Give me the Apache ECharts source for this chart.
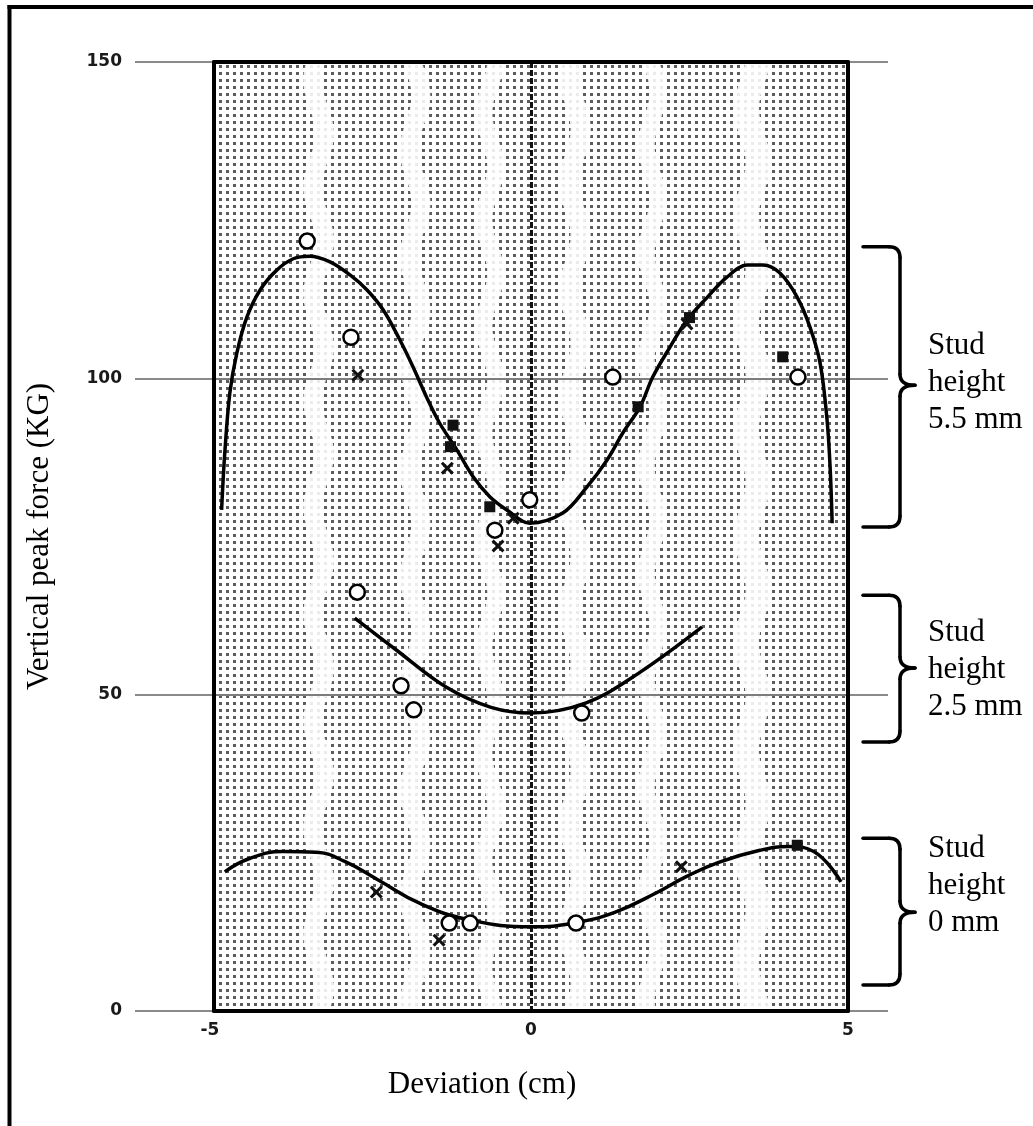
<!DOCTYPE html>
<html>
<head>
<meta charset="utf-8">
<script src="https://cdn.jsdelivr.net/npm/echarts@6/dist/echarts.min.js"></script>
<style>
  html, body { margin: 0; padding: 0; background: #fff; }
  #chart { width: 1033px; height: 1126px; }
</style>
</head>
<body>
<div id="chart"></div>
<script>
// Fitted response curves, one per stud height: [deviation cm, force KG]
const curve55 = [
  [-4.88, 79.2], [-4.83, 88.2], [-4.75, 97.7], [-4.64, 104.0], [-4.48, 109.7],
  [-4.27, 114.0], [-4.01, 117.1], [-3.75, 118.9], [-3.49, 119.3], [-3.17, 118.4],
  [-2.85, 116.3], [-2.59, 114.0], [-2.33, 110.8], [-2.07, 106.1], [-1.86, 101.8],
  [-1.65, 97.1], [-1.44, 92.9], [-1.17, 88.7], [-0.91, 84.4], [-0.65, 81.3],
  [-0.38, 79.2], [-0.02, 77.1], [0.50, 78.7], [0.88, 82.8], [1.20, 87.1],
  [1.45, 91.4], [1.72, 95.5], [1.92, 100.2], [2.19, 104.9], [2.46, 109.2],
  [2.78, 112.8], [3.09, 116.0], [3.41, 117.9], [3.66, 117.9], [3.93, 116.6],
  [4.20, 112.8], [4.40, 108.1], [4.56, 102.4], [4.67, 93.4], [4.72, 85.5], [4.75, 77.1]
];
const curve25 = [
  [-2.78, 62.1], [-2.13, 57.1], [-1.34, 51.2], [-0.63, 48.0], [0.0, 47.1],
  [0.87, 48.7], [1.70, 53.4], [2.70, 60.7]
];
const curve0 = [
  [-4.83, 22.0], [-4.44, 24.1], [-3.91, 25.2], [-3.39, 25.1], [-2.93, 23.6],
  [-2.41, 20.7], [-1.75, 17.0], [-0.97, 14.4], [0.02, 13.3], [0.67, 13.9],
  [1.32, 15.6], [1.98, 18.7], [2.44, 21.2], [2.96, 23.5], [3.61, 25.4],
  [4.07, 26.0], [4.46, 25.2], [4.89, 20.4]
];

// Measured points
const circles55 = [[-3.53, 121.7], [-2.84, 106.5], [-0.57, 76.0], [-0.02, 80.8], [1.29, 100.2], [4.21, 100.2]];
const crosses55 = [[-2.73, 100.5], [-1.32, 85.8], [-0.28, 77.9], [-0.52, 73.5], [2.46, 108.6]];
const squares55 = [[-1.23, 92.6], [-1.27, 89.2], [-0.65, 79.7], [1.69, 95.5], [2.50, 109.6], [3.97, 103.4]];
const circles25 = [[-2.74, 66.2], [-2.05, 51.4], [-1.85, 47.6], [0.80, 47.1]];
const circles0 = [[-1.29, 13.9], [-0.96, 13.9], [0.71, 13.9]];
const crosses0 = [[-2.44, 18.8], [-1.45, 11.2], [2.37, 22.8]];
const squares0 = [[4.20, 26.2]];

// Axis ranges and ticks
const xRange = [-5, 5];
const xStep = 5;
const yRange = [0, 150];
const yStep = 50;

// Stud-height groups annotated on the right
const studLabels = ['Stud\nheight\n5.5 mm', 'Stud\nheight\n2.5 mm', 'Stud\nheight\n0 mm'];
const braceSpans = [[120.8, 76.5], [65.7, 42.5], [27.3, 4.1]];
const braceTips = [98.9, 54.2, 15.6];
const labelCenters = [99.3, 54.0, 19.8];

// Pale wavy streaks running down the halftone paper (deviation units)
const streakCenters = [-3.35, -1.83, -0.65, 0.69, 1.91, 3.49];
const streakWidths = [0.3, 0.3, 0.27, 0.32, 0.27, 0.4];

function dotTile() {
  const c = document.createElement('canvas');
  c.width = 7; c.height = 7;
  const g = c.getContext('2d');
  g.fillStyle = '#ffffff';
  g.fillRect(0, 0, 7, 7);
  g.fillStyle = '#5c5c5c';
  g.fillRect(2, 2, 3, 3);
  return c;
}

const tickFont = { fontFamily: 'DejaVu Sans', fontWeight: 'bold', fontSize: 17, color: '#1a1a1a' };
const serif = '"Liberation Serif", "Times New Roman", serif';
const crossPath = 'path://M2,0 L6,4 L10,0 L12,2 L8,6 L12,10 L10,12 L6,8 L2,12 L0,10 L4,6 L0,2 Z';
const frameLine = { show: true, onZero: false, lineStyle: { color: '#000', width: 4 } };

const chart = echarts.init(document.getElementById('chart'));

chart.setOption({
  animation: false,
  backgroundColor: '#fff',
  grid: [
    { left: 214, top: 62, width: 634, height: 949, show: true, z: 1,
      backgroundColor: { image: dotTile(), repeat: 'repeat' }, borderWidth: 0 },
    { left: 135, top: 62, width: 753, height: 949, show: false }
  ],
  xAxis: [
    { gridIndex: 0, type: 'value', min: xRange[0], max: xRange[1], interval: xStep, z: 3,
      axisLine: frameLine, axisTick: { show: false },
      axisLabel: Object.assign({
        margin: 11,
        formatter: v => (v < 0 ? '{neg|' + v + '}' : String(v)),
        rich: { neg: Object.assign({ padding: [0, 8, 0, 0] }, tickFont) }
      }, tickFont),
      splitLine: { show: true, showMinLine: false, showMaxLine: false,
        lineStyle: { color: '#111', width: 3, type: [6, 2] } },
      name: 'Deviation (cm)', nameLocation: 'middle', nameGap: 58,
      nameTextStyle: { fontFamily: serif, fontSize: 31, color: '#000', padding: [0, 98, 0, 0] } },
    { gridIndex: 0, type: 'value', position: 'top', min: xRange[0], max: xRange[1], z: 3,
      axisLine: frameLine, axisTick: { show: false }, axisLabel: { show: false }, splitLine: { show: false } },
    { gridIndex: 1, type: 'value', min: xRange[0], max: xRange[1], show: false }
  ],
  yAxis: [
    { gridIndex: 0, type: 'value', min: yRange[0], max: yRange[1], interval: yStep, z: 3,
      axisLine: frameLine, axisTick: { show: false }, axisLabel: { show: false },
      splitLine: { show: true, showMinLine: false, showMaxLine: false,
        lineStyle: { color: '#7d7d7d', width: 2 } } },
    { gridIndex: 0, type: 'value', position: 'right', min: yRange[0], max: yRange[1], z: 3,
      axisLine: frameLine, axisTick: { show: false }, axisLabel: { show: false }, splitLine: { show: false } },
    { gridIndex: 1, type: 'value', min: yRange[0], max: yRange[1], interval: yStep,
      axisLine: { show: false }, axisTick: { show: false },
      axisLabel: Object.assign({ margin: 13 }, tickFont),
      splitLine: { show: true, lineStyle: { color: '#8a8a8a', width: 2 } },
      name: 'Vertical peak force (KG)', nameLocation: 'middle', nameGap: 80, nameRotate: 90,
      nameTextStyle: { fontFamily: serif, fontSize: 31, color: '#000' } }
  ],
  series: [
    { type: 'line', data: curve55, smooth: 0.35, showSymbol: false, z: 4,
      lineStyle: { color: '#000', width: 3.5 } },
    { type: 'line', data: curve25, smooth: 0.35, showSymbol: false, z: 4,
      lineStyle: { color: '#000', width: 3.5 } },
    { type: 'line', data: curve0, smooth: 0.45, showSymbol: false, z: 4,
      lineStyle: { color: '#000', width: 3.5 } },
    { type: 'scatter', data: circles55.concat(circles25, circles0), symbol: 'circle', symbolSize: 15, z: 5,
      itemStyle: { color: '#fff', borderColor: '#000', borderWidth: 2.5, opacity: 1 } },
    { type: 'scatter', data: crosses55.concat(crosses0), symbol: crossPath, symbolSize: 13, z: 5,
      itemStyle: { color: '#111', opacity: 1 } },
    { type: 'scatter', data: squares55.concat(squares0), symbol: 'rect', symbolSize: 11, z: 5,
      itemStyle: { color: '#111', opacity: 1 } }
  ]
});

const xPx = v => chart.convertToPixel({ xAxisIndex: 0 }, v);
const yPx = v => chart.convertToPixel({ yAxisIndex: 0 }, v);
const plotRight = xPx(xRange[1]);
const plotTop = yPx(yRange[1]);
const plotBottom = yPx(yRange[0]);
const ink = { stroke: '#000', lineWidth: 3.5, fill: 'none', lineCap: 'round' };

const graphics = [
  { type: 'line', z: 6, shape: { x1: 9.5, y1: 5, x2: 9.5, y2: 1126 }, style: { stroke: '#000', lineWidth: 4 } },
  { type: 'line', z: 6, shape: { x1: 7.5, y1: 7, x2: 1033, y2: 7 }, style: { stroke: '#000', lineWidth: 4 } }
];

// Wavy pale streaks of the printed halftone
streakCenters.forEach((c, i) => {
  const cx = xPx(c);
  const half = (xPx(c + streakWidths[i]) - cx) / 2;
  const left = [], right = [];
  for (let y = plotTop + 2; y <= plotBottom - 2; y += 8) {
    const wob = 6 * Math.sin((y + i * 37) / 17);
    left.push([cx - half + wob, y]);
    right.unshift([cx + half + wob, y]);
  }
  graphics.push({ type: 'polygon', z: 2, silent: true, shape: { points: left.concat(right) },
    style: { fill: 'rgba(255,255,255,0.88)' } });
});

// Curly braces with the stud-height captions
function brace(x0, xv, xt, yt, yb, ym) {
  const r = 11;
  return [
    { type: 'line', shape: { x1: x0, y1: yt, x2: xv - r, y2: yt } },
    { type: 'bezierCurve', shape: { x1: xv - r, y1: yt, cpx1: xv, cpy1: yt, x2: xv, y2: yt + r } },
    { type: 'line', shape: { x1: xv, y1: yt + r, x2: xv, y2: ym - r } },
    { type: 'bezierCurve', shape: { x1: xv, y1: ym - r, cpx1: xv, cpy1: ym, x2: xt, y2: ym } },
    { type: 'bezierCurve', shape: { x1: xt, y1: ym, cpx1: xv, cpy1: ym, x2: xv, y2: ym + r } },
    { type: 'line', shape: { x1: xv, y1: ym + r, x2: xv, y2: yb - r } },
    { type: 'bezierCurve', shape: { x1: xv, y1: yb - r, cpx1: xv, cpy1: yb, x2: xv - r, y2: yb } },
    { type: 'line', shape: { x1: xv - r, y1: yb, x2: x0, y2: yb } }
  ].map(el => Object.assign(el, { z: 6, style: ink }));
}

braceSpans.forEach((span, i) => {
  brace(plotRight + 15, plotRight + 52, plotRight + 67, yPx(span[0]), yPx(span[1]), yPx(braceTips[i]))
    .forEach(el => graphics.push(el));
  graphics.push({
    type: 'text', z: 6, x: plotRight + 80, y: yPx(labelCenters[i]),
    style: { text: studLabels[i], font: '31px ' + serif, fill: '#000', lineHeight: 37, verticalAlign: 'middle', align: 'left' }
  });
});
chart.setOption({ graphic: { elements: graphics } });
</script>
</body>
</html>
